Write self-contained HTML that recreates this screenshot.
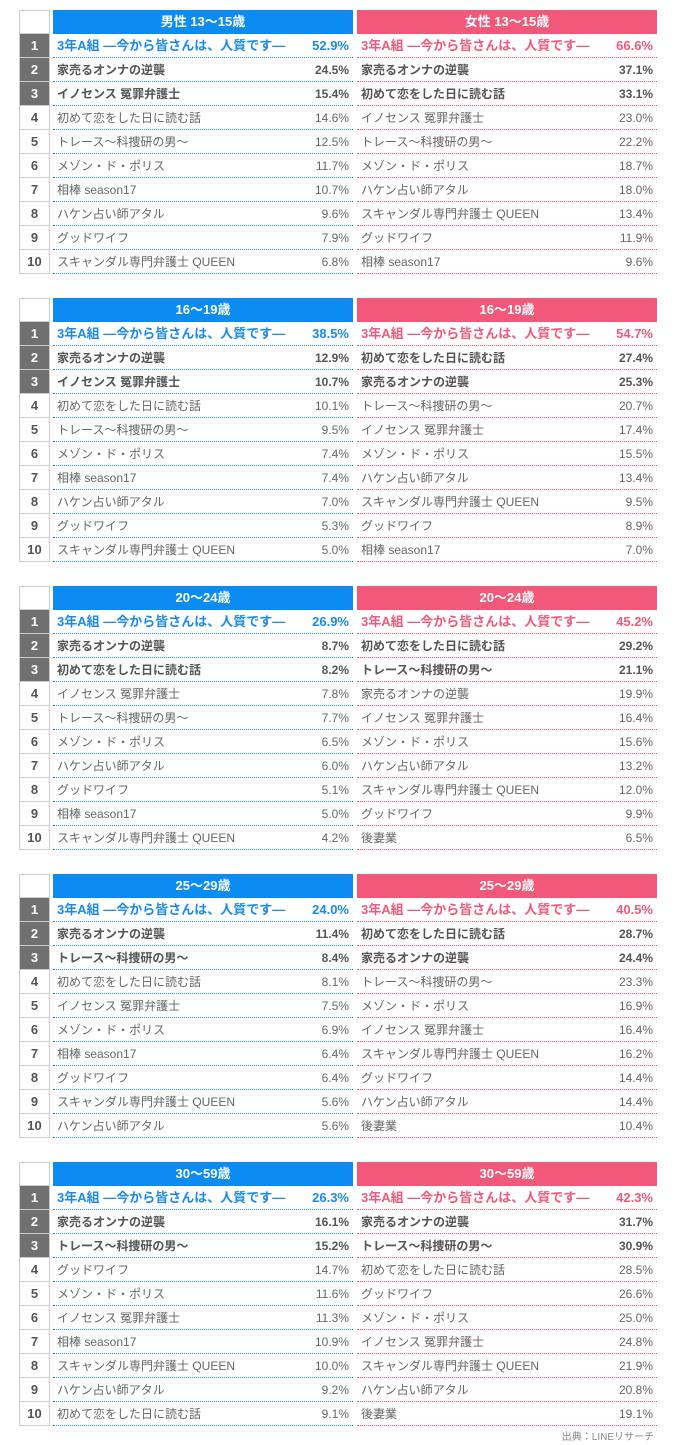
<!DOCTYPE html>
<html><head><meta charset="utf-8"><style>
*{margin:0;padding:0;box-sizing:border-box}
body{width:676px;height:1445px;background:#fff;position:relative;font-family:"Liberation Sans","Noto Sans CJK JP",sans-serif;font-size:12px;color:#666;overflow:hidden}
.blk{position:absolute;left:19px;width:638px;height:264px}
.rk{position:absolute;left:0;top:0;width:31px}
.rk div{height:24px;border:1px solid #ccc;border-top:none;text-align:center;line-height:23px;font-weight:bold;font-size:13px;color:#555}
.rk div:first-child{border-top:1px solid #ccc}
.rk .d{background:#707070;color:#fff;border-color:#ccc}
.col{position:absolute;top:0;width:300px}
.m{left:34px}.f{left:338px}
.h{height:24px;line-height:24px;text-align:center;color:#fff;font-weight:bold;font-size:13px}
.m .h{background:#0b8cf2}.f .h{background:#f2587a}
.r{height:24px;line-height:24px;padding:0 4px 0 4px;display:flex;justify-content:space-between;white-space:nowrap}
.m .r{border-bottom:1px dotted #1a8be0}.f .r{border-bottom:1px dotted #e05078}
.r.b{font-weight:bold;color:#555}
.m .r.t{color:#1a8be8;font-weight:bold;font-size:13px}
.f .r.t{color:#ef5a7c;font-weight:bold;font-size:13px}
.src{position:absolute;right:22px;top:1428px;font-size:10px;color:#888}
</style></head><body>

<div class="blk" style="top:10px">
<div class="rk"><div></div><div class="d">1</div><div class="d">2</div><div class="d">3</div><div>4</div><div>5</div><div>6</div><div>7</div><div>8</div><div>9</div><div>10</div></div>
<div class="col m"><div class="h">男性 13～15歳</div>
<div class="r t"><span>3年A組 ―今から皆さんは、人質です―</span><span>52.9%</span></div>
<div class="r b"><span>家売るオンナの逆襲</span><span>24.5%</span></div>
<div class="r b"><span>イノセンス 冤罪弁護士</span><span>15.4%</span></div>
<div class="r"><span>初めて恋をした日に読む話</span><span>14.6%</span></div>
<div class="r"><span>トレース～科捜研の男～</span><span>12.5%</span></div>
<div class="r"><span>メゾン・ド・ポリス</span><span>11.7%</span></div>
<div class="r"><span>相棒 season17</span><span>10.7%</span></div>
<div class="r"><span>ハケン占い師アタル</span><span>9.6%</span></div>
<div class="r"><span>グッドワイフ</span><span>7.9%</span></div>
<div class="r"><span>スキャンダル専門弁護士 QUEEN</span><span>6.8%</span></div></div>
<div class="col f"><div class="h">女性 13～15歳</div>
<div class="r t"><span>3年A組 ―今から皆さんは、人質です―</span><span>66.6%</span></div>
<div class="r b"><span>家売るオンナの逆襲</span><span>37.1%</span></div>
<div class="r b"><span>初めて恋をした日に読む話</span><span>33.1%</span></div>
<div class="r"><span>イノセンス 冤罪弁護士</span><span>23.0%</span></div>
<div class="r"><span>トレース～科捜研の男～</span><span>22.2%</span></div>
<div class="r"><span>メゾン・ド・ポリス</span><span>18.7%</span></div>
<div class="r"><span>ハケン占い師アタル</span><span>18.0%</span></div>
<div class="r"><span>スキャンダル専門弁護士 QUEEN</span><span>13.4%</span></div>
<div class="r"><span>グッドワイフ</span><span>11.9%</span></div>
<div class="r"><span>相棒 season17</span><span>9.6%</span></div></div>
</div>

<div class="blk" style="top:298px">
<div class="rk"><div></div><div class="d">1</div><div class="d">2</div><div class="d">3</div><div>4</div><div>5</div><div>6</div><div>7</div><div>8</div><div>9</div><div>10</div></div>
<div class="col m"><div class="h">16～19歳</div>
<div class="r t"><span>3年A組 ―今から皆さんは、人質です―</span><span>38.5%</span></div>
<div class="r b"><span>家売るオンナの逆襲</span><span>12.9%</span></div>
<div class="r b"><span>イノセンス 冤罪弁護士</span><span>10.7%</span></div>
<div class="r"><span>初めて恋をした日に読む話</span><span>10.1%</span></div>
<div class="r"><span>トレース～科捜研の男～</span><span>9.5%</span></div>
<div class="r"><span>メゾン・ド・ポリス</span><span>7.4%</span></div>
<div class="r"><span>相棒 season17</span><span>7.4%</span></div>
<div class="r"><span>ハケン占い師アタル</span><span>7.0%</span></div>
<div class="r"><span>グッドワイフ</span><span>5.3%</span></div>
<div class="r"><span>スキャンダル専門弁護士 QUEEN</span><span>5.0%</span></div></div>
<div class="col f"><div class="h">16～19歳</div>
<div class="r t"><span>3年A組 ―今から皆さんは、人質です―</span><span>54.7%</span></div>
<div class="r b"><span>初めて恋をした日に読む話</span><span>27.4%</span></div>
<div class="r b"><span>家売るオンナの逆襲</span><span>25.3%</span></div>
<div class="r"><span>トレース～科捜研の男～</span><span>20.7%</span></div>
<div class="r"><span>イノセンス 冤罪弁護士</span><span>17.4%</span></div>
<div class="r"><span>メゾン・ド・ポリス</span><span>15.5%</span></div>
<div class="r"><span>ハケン占い師アタル</span><span>13.4%</span></div>
<div class="r"><span>スキャンダル専門弁護士 QUEEN</span><span>9.5%</span></div>
<div class="r"><span>グッドワイフ</span><span>8.9%</span></div>
<div class="r"><span>相棒 season17</span><span>7.0%</span></div></div>
</div>

<div class="blk" style="top:586px">
<div class="rk"><div></div><div class="d">1</div><div class="d">2</div><div class="d">3</div><div>4</div><div>5</div><div>6</div><div>7</div><div>8</div><div>9</div><div>10</div></div>
<div class="col m"><div class="h">20～24歳</div>
<div class="r t"><span>3年A組 ―今から皆さんは、人質です―</span><span>26.9%</span></div>
<div class="r b"><span>家売るオンナの逆襲</span><span>8.7%</span></div>
<div class="r b"><span>初めて恋をした日に読む話</span><span>8.2%</span></div>
<div class="r"><span>イノセンス 冤罪弁護士</span><span>7.8%</span></div>
<div class="r"><span>トレース～科捜研の男～</span><span>7.7%</span></div>
<div class="r"><span>メゾン・ド・ポリス</span><span>6.5%</span></div>
<div class="r"><span>ハケン占い師アタル</span><span>6.0%</span></div>
<div class="r"><span>グッドワイフ</span><span>5.1%</span></div>
<div class="r"><span>相棒 season17</span><span>5.0%</span></div>
<div class="r"><span>スキャンダル専門弁護士 QUEEN</span><span>4.2%</span></div></div>
<div class="col f"><div class="h">20～24歳</div>
<div class="r t"><span>3年A組 ―今から皆さんは、人質です―</span><span>45.2%</span></div>
<div class="r b"><span>初めて恋をした日に読む話</span><span>29.2%</span></div>
<div class="r b"><span>トレース～科捜研の男～</span><span>21.1%</span></div>
<div class="r"><span>家売るオンナの逆襲</span><span>19.9%</span></div>
<div class="r"><span>イノセンス 冤罪弁護士</span><span>16.4%</span></div>
<div class="r"><span>メゾン・ド・ポリス</span><span>15.6%</span></div>
<div class="r"><span>ハケン占い師アタル</span><span>13.2%</span></div>
<div class="r"><span>スキャンダル専門弁護士 QUEEN</span><span>12.0%</span></div>
<div class="r"><span>グッドワイフ</span><span>9.9%</span></div>
<div class="r"><span>後妻業</span><span>6.5%</span></div></div>
</div>

<div class="blk" style="top:874px">
<div class="rk"><div></div><div class="d">1</div><div class="d">2</div><div class="d">3</div><div>4</div><div>5</div><div>6</div><div>7</div><div>8</div><div>9</div><div>10</div></div>
<div class="col m"><div class="h">25～29歳</div>
<div class="r t"><span>3年A組 ―今から皆さんは、人質です―</span><span>24.0%</span></div>
<div class="r b"><span>家売るオンナの逆襲</span><span>11.4%</span></div>
<div class="r b"><span>トレース～科捜研の男～</span><span>8.4%</span></div>
<div class="r"><span>初めて恋をした日に読む話</span><span>8.1%</span></div>
<div class="r"><span>イノセンス 冤罪弁護士</span><span>7.5%</span></div>
<div class="r"><span>メゾン・ド・ポリス</span><span>6.9%</span></div>
<div class="r"><span>相棒 season17</span><span>6.4%</span></div>
<div class="r"><span>グッドワイフ</span><span>6.4%</span></div>
<div class="r"><span>スキャンダル専門弁護士 QUEEN</span><span>5.6%</span></div>
<div class="r"><span>ハケン占い師アタル</span><span>5.6%</span></div></div>
<div class="col f"><div class="h">25～29歳</div>
<div class="r t"><span>3年A組 ―今から皆さんは、人質です―</span><span>40.5%</span></div>
<div class="r b"><span>初めて恋をした日に読む話</span><span>28.7%</span></div>
<div class="r b"><span>家売るオンナの逆襲</span><span>24.4%</span></div>
<div class="r"><span>トレース～科捜研の男～</span><span>23.3%</span></div>
<div class="r"><span>メゾン・ド・ポリス</span><span>16.9%</span></div>
<div class="r"><span>イノセンス 冤罪弁護士</span><span>16.4%</span></div>
<div class="r"><span>スキャンダル専門弁護士 QUEEN</span><span>16.2%</span></div>
<div class="r"><span>グッドワイフ</span><span>14.4%</span></div>
<div class="r"><span>ハケン占い師アタル</span><span>14.4%</span></div>
<div class="r"><span>後妻業</span><span>10.4%</span></div></div>
</div>

<div class="blk" style="top:1162px">
<div class="rk"><div></div><div class="d">1</div><div class="d">2</div><div class="d">3</div><div>4</div><div>5</div><div>6</div><div>7</div><div>8</div><div>9</div><div>10</div></div>
<div class="col m"><div class="h">30～59歳</div>
<div class="r t"><span>3年A組 ―今から皆さんは、人質です―</span><span>26.3%</span></div>
<div class="r b"><span>家売るオンナの逆襲</span><span>16.1%</span></div>
<div class="r b"><span>トレース～科捜研の男～</span><span>15.2%</span></div>
<div class="r"><span>グッドワイフ</span><span>14.7%</span></div>
<div class="r"><span>メゾン・ド・ポリス</span><span>11.6%</span></div>
<div class="r"><span>イノセンス 冤罪弁護士</span><span>11.3%</span></div>
<div class="r"><span>相棒 season17</span><span>10.9%</span></div>
<div class="r"><span>スキャンダル専門弁護士 QUEEN</span><span>10.0%</span></div>
<div class="r"><span>ハケン占い師アタル</span><span>9.2%</span></div>
<div class="r"><span>初めて恋をした日に読む話</span><span>9.1%</span></div></div>
<div class="col f"><div class="h">30～59歳</div>
<div class="r t"><span>3年A組 ―今から皆さんは、人質です―</span><span>42.3%</span></div>
<div class="r b"><span>家売るオンナの逆襲</span><span>31.7%</span></div>
<div class="r b"><span>トレース～科捜研の男～</span><span>30.9%</span></div>
<div class="r"><span>初めて恋をした日に読む話</span><span>28.5%</span></div>
<div class="r"><span>グッドワイフ</span><span>26.6%</span></div>
<div class="r"><span>メゾン・ド・ポリス</span><span>25.0%</span></div>
<div class="r"><span>イノセンス 冤罪弁護士</span><span>24.8%</span></div>
<div class="r"><span>スキャンダル専門弁護士 QUEEN</span><span>21.9%</span></div>
<div class="r"><span>ハケン占い師アタル</span><span>20.8%</span></div>
<div class="r"><span>後妻業</span><span>19.1%</span></div></div>
</div>

<div class="src">出典：LINEリサーチ</div>
</body></html>
